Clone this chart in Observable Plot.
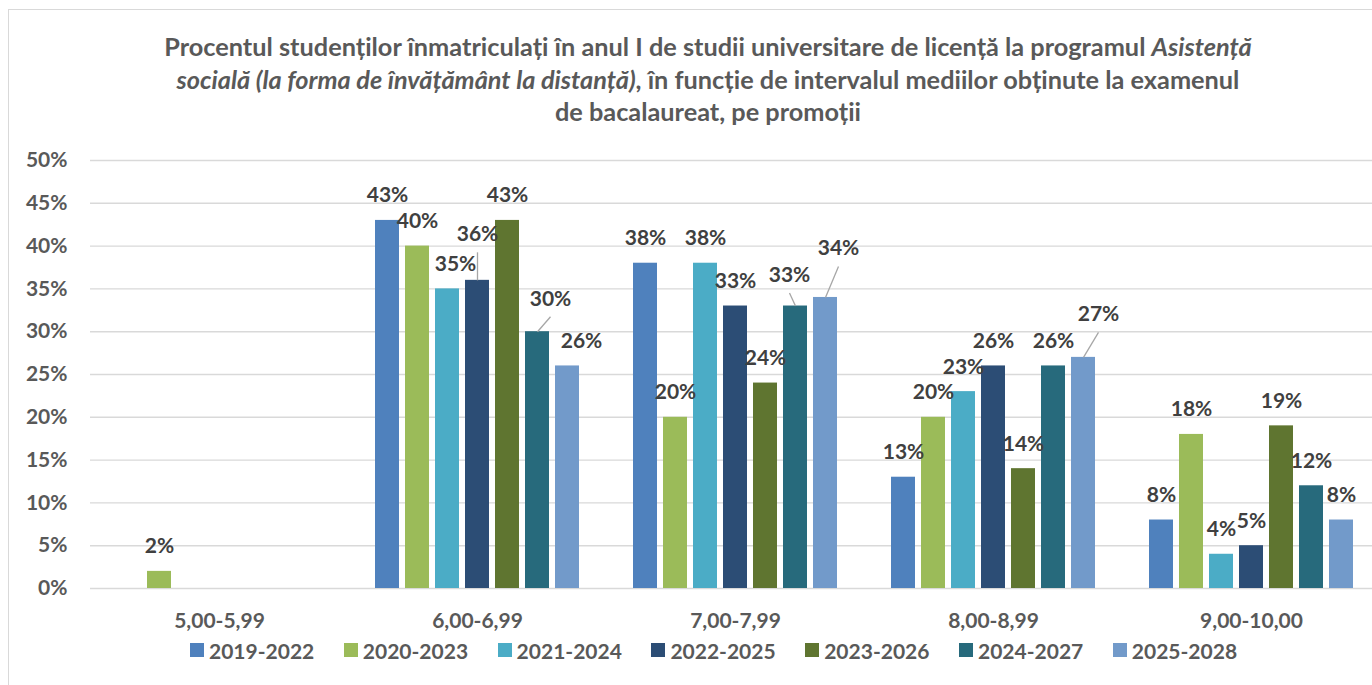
<!DOCTYPE html>
<html>
<head>
<meta charset="utf-8">
<script src="https://cdn.jsdelivr.net/npm/d3@7"></script>
<script src="https://cdn.jsdelivr.net/npm/@observablehq/plot@0.6"></script>
<style>
  html, body { margin: 0; padding: 0; width: 1372px; height: 685px; overflow: hidden; background: #fff; }
  body { position: relative; font-family: Lato, "Liberation Sans", sans-serif; }
  #frame { position: absolute; left: 8px; top: 9px; width: 1440px; height: 720px; border: 1.5px solid #d9d9d9; box-sizing: border-box; }
  #title { position: absolute; left: 0; top: 30px; width: 1416px; text-align: center; font-weight: bold; font-size: 25.3px; line-height: 32.5px; color: #595959; }
  #chart { position: absolute; left: 0; top: 130px; width: 1400px; }
  #chart svg { max-width: none !important; }
  #legend { position: absolute; left: 0; top: 640px; width: 1372px; height: 24px; }
  .item { position: absolute; top: 0; display: flex; align-items: center; height: 20px; font-weight: bold; font-size: 21px; color: #595959; white-space: nowrap; }
  .sw { width: 14px; height: 14px; margin-right: 5px; flex: none; }
</style>
</head>
<body>
<div id="frame"></div>
<div id="title">Procentul studenților înmatriculați în anul I de studii universitare de licență la programul <i>Asistență</i><br><i>socială (la forma de învățământ la distanță)</i>, în funcție de intervalul mediilor obținute la examenul<br>de bacalaureat, pe promoții</div>
<div id="chart"></div>
<div id="legend"></div>
<script>
// ---- data ----
const categories = ["5,00-5,99", "6,00-6,99", "7,00-7,99", "8,00-8,99", "9,00-10,00"];
const series = ["2019-2022", "2020-2023", "2021-2024", "2022-2025", "2023-2026", "2024-2027", "2025-2028"];
const v2019_2022 = [null, 43, 38, 13, 8];
const v2020_2023 = [2, 40, 20, 20, 18];
const v2021_2024 = [null, 35, 38, 23, 4];
const v2022_2025 = [null, 36, 33, 26, 5];
const v2023_2026 = [null, 43, 24, 14, 19];
const v2024_2027 = [null, 30, 33, 26, 12];
const v2025_2028 = [null, 26, 34, 27, 8];
const yTicks = [0, 5, 10, 15, 20, 25, 30, 35, 40, 45, 50];
const colors = ["#4F81BD", "#9BBB59", "#4BACC6", "#2C4D75", "#5F7530", "#276A7C", "#729ACA"];

// label adjustments (pixel nudges, as in the original chart's moved data labels)
const labelNudges = [
  {category: "6,00-6,99", series: "2021-2024", dx: 8, dy: 0, leader: false},
  {category: "6,00-6,99", series: "2022-2025", dx: 0, dy: -21, leader: true},
  {category: "6,00-6,99", series: "2024-2027", dx: 13, dy: -8, leader: true},
  {category: "6,00-6,99", series: "2025-2028", dx: 14, dy: 0, leader: false},
  {category: "7,00-7,99", series: "2024-2027", dx: -6, dy: -6, leader: true},
  {category: "7,00-7,99", series: "2025-2028", dx: 13, dy: -24, leader: true},
  {category: "8,00-8,99", series: "2025-2028", dx: 15, dy: -18, leader: true}
];

const seriesValues = [v2019_2022, v2020_2023, v2021_2024, v2022_2025, v2023_2026, v2024_2027, v2025_2028];
const data = series.flatMap((s, si) => seriesValues[si].map((v, ci) => ({category: categories[ci], series: s, value: v})))
  .filter(d => d.value != null);
const key = d => d.category + "|" + d.series;
const nudgeMap = new Map(labelNudges.map(n => [key(n), n]));
const stdLabels = data.filter(d => !nudgeMap.has(key(d)));
const nudged = data.filter(d => nudgeMap.has(key(d))).map(d => ({...d, ...nudgeMap.get(key(d))}));
const leaders = nudged.filter(d => d.leader);

const labelOpts = {fx: "category", x: "series", y: "value", text: d => d.value + "%", lineAnchor: "bottom",
  fill: "#404040", fontSize: 21, fontWeight: "bold"};

const chart = Plot.plot({
  width: 1400, height: 510,
  marginLeft: 90, marginRight: 20, marginTop: 30, marginBottom: 52,
  style: {fontFamily: "Lato, 'Liberation Sans', sans-serif", fontWeight: "bold", color: "#595959", background: "transparent", overflow: "visible", maxWidth: "none"},
  facet: {marginTop: 0, marginBottom: 0, marginLeft: 0, marginRight: 0},
  fx: {domain: categories, padding: 0, label: null},
  x: {domain: series, paddingInner: 0.208, paddingOuter: 0.86, axis: null},
  y: {domain: [0, 50], label: null},
  color: {domain: series, range: colors},
  marks: [
    Plot.gridY(yTicks, {stroke: "#d9d9d9", strokeOpacity: 1, strokeWidth: 1.4}),
    Plot.axisY(yTicks, {tickSize: 0, tickPadding: 23, fontSize: 21, tickFormat: d => d + "%", fill: "#595959", label: null}),
    Plot.axisFx({anchor: "bottom", tickSize: 0, tickPadding: 25, fontSize: 21, fill: "#595959", label: null}),
    Plot.barY(data, {fx: "category", x: "series", y: "value", fill: "series"}),
    Plot.link(leaders, {fx: "category", x1: "series", x2: "series", y1: "value", y2: "value",
      stroke: "#a6a6a6", strokeWidth: 1.3,
      render(index, scales, values, dimensions, context, next) {
        const X2 = Float64Array.from(values.x2), Y2 = Float64Array.from(values.y2);
        for (const i of index) { X2[i] += leaders[i].dx; Y2[i] += leaders[i].dy - 7; }
        return next(index, scales, {...values, x2: X2, y2: Y2}, dimensions, context);
      }}),
    Plot.text(stdLabels, {...labelOpts, dy: -18}),
    ...nudged.map(n => Plot.text([n], {...labelOpts, dx: n.dx, dy: -18 + n.dy}))
  ]
});
document.getElementById("chart").appendChild(chart);

// legend
const legend = document.getElementById("legend");
series.forEach((s, i) => {
  const item = document.createElement("div");
  item.className = "item";
  item.style.left = (190 + i * 153.8) + "px";
  const sw = document.createElement("span");
  sw.className = "sw";
  sw.style.background = colors[i];
  item.appendChild(sw);
  item.appendChild(document.createTextNode(s));
  legend.appendChild(item);
});
</script>
</body>
</html>
